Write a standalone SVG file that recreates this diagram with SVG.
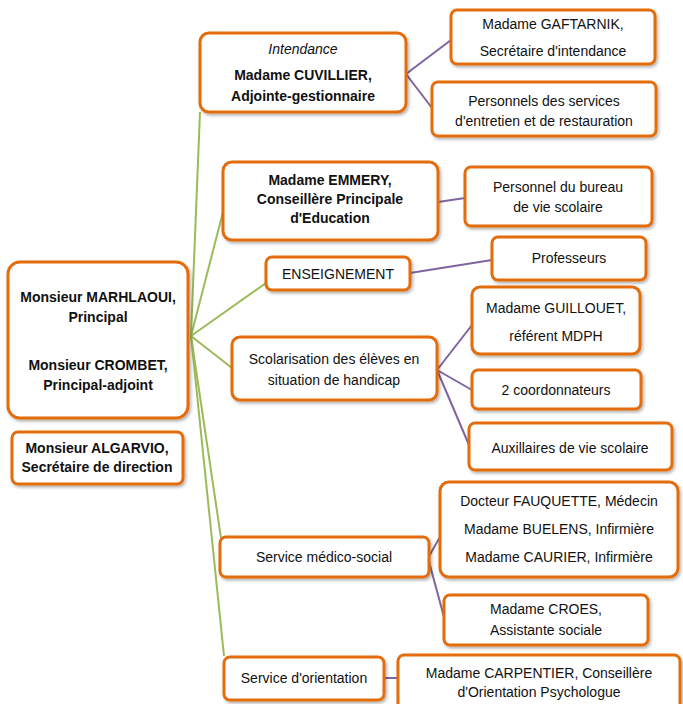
<svg xmlns="http://www.w3.org/2000/svg" width="683" height="704" viewBox="0 0 683 704">
<defs>
<filter id="sh" x="-10%" y="-10%" width="125%" height="130%">
<feDropShadow dx="1.5" dy="2" stdDeviation="1.5" flood-color="#000" flood-opacity="0.3"/>
</filter>
</defs>
<style>
.box{fill:#fff;stroke:#E36C0A;stroke-width:3;filter:url(#sh)}
text{font-family:"Liberation Sans",Arial,sans-serif;font-size:14px;fill:#111;text-anchor:middle}
.b{font-weight:bold}
.i{font-style:italic}
.g{stroke:#9BBB59;stroke-width:2;fill:none}
.p{stroke:#8064A2;stroke-width:2;fill:none}
</style>
<rect width="683" height="704" fill="#fff"/>
<g id="connectors">
<path class="g" d="M191 336 L200 112"/>
<path class="g" d="M191 336 L223 212"/>
<path class="g" d="M191 336 L266 283"/>
<path class="g" d="M191 336 L232 368"/>
<path class="g" d="M191 336 L221 538"/>
<path class="g" d="M191 336 L224 656"/>
<path class="p" d="M406 74 L451 40"/>
<path class="p" d="M406 74 L432 108"/>
<path class="p" d="M438 202 L465 198"/>
<path class="p" d="M410 273 L492 260"/>
<path class="p" d="M437 370 L472 325"/>
<path class="p" d="M437 370 L472 390"/>
<path class="p" d="M437 370 L469 445"/>
<path class="p" d="M428 558 L440 537"/>
<path class="p" d="M428 558 L444 617"/>
<path class="p" d="M384 678 L398 678"/>
</g>
<g id="root">
<rect class="box" x="8" y="262" width="180" height="156" rx="12"/>
<text class="b" x="98" y="302">Monsieur MARHLAOUI,</text>
<text class="b" x="98" y="322">Principal</text>
<text class="b" x="98" y="370">Monsieur CROMBET,</text>
<text class="b" x="98" y="390">Principal-adjoint</text>
</g>
<g id="algarvio">
<rect class="box" x="12" y="432" width="171" height="52" rx="6"/>
<text class="b" x="97" y="453">Monsieur ALGARVIO,</text>
<text class="b" x="97" y="472">Secrétaire de direction</text>
</g>
<g id="intendance">
<rect class="box" x="200" y="33" width="206" height="79" rx="9"/>
<text class="i" x="303" y="54">Intendance</text>
<text class="b" x="303" y="80">Madame CUVILLIER,</text>
<text class="b" x="303" y="101">Adjointe-gestionnaire</text>
</g>
<g id="gaftarnik">
<rect class="box" x="451" y="10" width="204" height="54" rx="6"/>
<text x="553" y="29">Madame GAFTARNIK,</text>
<text x="553" y="56">Secrétaire d'intendance</text>
</g>
<g id="personnels">
<rect class="box" x="432" y="82" width="224" height="54" rx="6"/>
<text x="544" y="106">Personnels des services</text>
<text x="544" y="126">d'entretien et de restauration</text>
</g>
<g id="emmery">
<rect class="box" x="223" y="162" width="215" height="78" rx="9"/>
<text class="b" x="330" y="185">Madame EMMERY,</text>
<text class="b" x="330" y="204">Conseillère Principale</text>
<text class="b" x="330" y="223">d'Education</text>
</g>
<g id="bureau">
<rect class="box" x="465" y="167" width="187" height="59" rx="6"/>
<text x="558" y="192">Personnel du bureau</text>
<text x="558" y="212">de vie scolaire</text>
</g>
<g id="enseignement">
<rect class="box" x="266" y="257" width="144" height="33" rx="6"/>
<text x="338" y="279">ENSEIGNEMENT</text>
</g>
<g id="professeurs">
<rect class="box" x="492" y="237" width="154" height="43" rx="6"/>
<text x="569" y="263">Professeurs</text>
</g>
<g id="scolarisation">
<rect class="box" x="232" y="337" width="205" height="63" rx="8"/>
<text x="334" y="364">Scolarisation des élèves en</text>
<text x="334" y="385">situation de handicap</text>
</g>
<g id="guillouet">
<rect class="box" x="472" y="287" width="168" height="67" rx="8"/>
<text x="556" y="313">Madame GUILLOUET,</text>
<text x="556" y="341">référent MDPH</text>
</g>
<g id="coordonnateurs">
<rect class="box" x="472" y="370" width="169" height="39" rx="6"/>
<text x="556" y="395">2 coordonnateurs</text>
</g>
<g id="auxillaires">
<rect class="box" x="469" y="423" width="203" height="47" rx="6"/>
<text x="570" y="453">Auxillaires de vie scolaire</text>
</g>
<g id="medico">
<rect class="box" x="220" y="537" width="209" height="40" rx="6"/>
<text x="324" y="562">Service médico-social</text>
</g>
<g id="fauquette">
<rect class="box" x="440" y="482" width="238" height="95" rx="9"/>
<text x="559" y="506">Docteur FAUQUETTE, Médecin</text>
<text x="559" y="534">Madame BUELENS, Infirmière</text>
<text x="559" y="562">Madame CAURIER, Infirmière</text>
</g>
<g id="croes">
<rect class="box" x="444" y="595" width="204" height="50" rx="6"/>
<text x="546" y="614">Madame CROES,</text>
<text x="546" y="635">Assistante sociale</text>
</g>
<g id="orientation">
<rect class="box" x="224" y="657" width="160" height="43" rx="6"/>
<text x="304" y="683">Service d'orientation</text>
</g>
<g id="carpentier">
<rect class="box" x="398" y="655" width="282" height="55" rx="6"/>
<text x="539" y="678">Madame CARPENTIER, Conseillère</text>
<text x="539" y="697">d'Orientation Psychologue</text>
</g>
</svg>
